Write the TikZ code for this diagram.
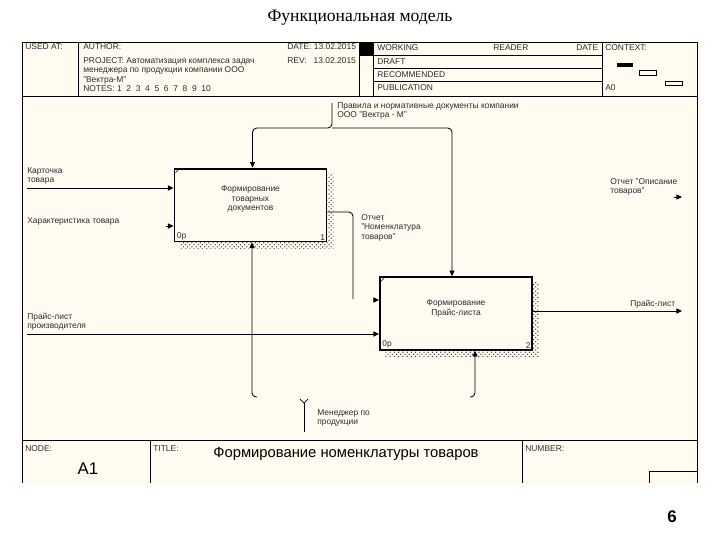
\documentclass[tikz,border=0pt]{standalone}
\usepackage{fontspec}
\setmainfont{Liberation Serif}
\setsansfont{Liberation Sans}
\usetikzlibrary{arrows.meta,positioning,calc,patterns}
\definecolor{idefCream}{RGB}{255,251,240}
\definecolor{idefInk}{RGB}{45,45,45}

\begin{document}
\begin{tikzpicture}[
  x=0.025cm, y=-0.025cm,
  txt/.style={font=\sffamily\fontsize{6}{6.8}\selectfont, text=idefInk,
              inner sep=0pt, align=left},
  hdr/.style={txt, anchor=west},
  act/.style={draw, line width=1.3pt, fill=idefCream,
              minimum width=3.8cm, minimum height=1.82cm},
  shade/.style={pattern=crosshatch dots, pattern color=black!75},
  arr/.style={-{Triangle[length=4pt,width=3.6pt]}, line width=0.6pt,
              rounded corners=3pt},
  rule/.style={line width=0.6pt}
]
  \useasboundingbox (0,0) rectangle (720,540);
  \fill[idefCream] (20,40) rectangle (700,483);

  % page title and number
  \node[font=\fontsize{12.5}{14}\selectfont] (ttl) at (360,18) {Функциональная модель};
  \node[font=\sffamily\bfseries\fontsize{12}{14}\selectfont] (pg) at (672,517) {6};

  % frame: header
  \draw[rule] (22,483) -- (22,42) -- (697,42) -- (697,483);
  \draw[rule] (22,96) -- (697,96);
  \draw[rule] (78,42) -- (78,96);
  \draw[rule] (359,42) -- (359,96);
  \draw[rule] (373,42) -- (373,96);
  \draw[rule] (602,42) -- (602,96);
  \fill[black] (359,42) rectangle (373,55);
  \draw[rule] (359,55) -- (602,55);
  \draw[rule] (373,68) -- (602,68);
  \draw[rule] (373,81) -- (602,81);

  \node[hdr] (usedat) at (25,47) {USED AT:};
  \node[hdr] (author) at (83,47) {AUTHOR:};
  \node[hdr] (date) at (287,47) {DATE:\ 13.02.2015};
  \node[hdr] (rev) at (287,61) {REV:\ \ \ 13.02.2015};
  \node[hdr, anchor=north west] (proj) at (83,57)
    {PROJECT: Автоматизация комплекса задач\\менеджера по продукции компании ООО\\"Вектра-М"\\NOTES:\ 1\ \ 2\ \ 3\ \ 4\ \ 5\ \ 6\ \ 7\ \ 8\ \ 9\ \ 10};
  \node[hdr] (working) at (377,48) {WORKING};
  \node[hdr] (draft) at (377,62) {DRAFT};
  \node[hdr] (recom) at (377,75) {RECOMMENDED};
  \node[hdr] (publ) at (377,88) {PUBLICATION};
  \node[hdr] (reader) at (493,48) {READER};
  \node[hdr] (rdate) at (576,48) {DATE};
  \node[hdr] (context) at (605,48) {CONTEXT:};
  \node[hdr] (ctxnode) at (605,88) {A0};

  % context sketch
  \fill[black] (617,63) rectangle (633,67);
  \draw[rule] (639,70) rectangle (656,75);
  \draw[rule] (665,81) rectangle (682,85);

  % frame: footer
  \draw[rule] (22,440) -- (697,440);
  \draw[rule] (150,440) -- (150,483);
  \draw[rule] (522,440) -- (522,483);
  \draw[rule] (649,483) -- (649,471) -- (697,471);
  \node[hdr] (nodelbl) at (25,449) {NODE:};
  \node[font=\sffamily\fontsize{12}{14}\selectfont] (nodeid) at (88,469) {A1};
  \node[hdr] (titlelbl) at (153,449) {TITLE:};
  \node[font=\sffamily\fontsize{10.5}{12}\selectfont] (title) at (346,454)
    {Формирование номенклатуры товаров};
  \node[hdr] (numlbl) at (525,449) {NUMBER:};

  % activities
  \node[act] (b1) at (250.5,205) {};
  \node[act] (b2) at (456,313.5) {};
  \fill[shade] ($(b1.north east)+(0,6)$) rectangle ($(b1.south east)+(6,6)$);
  \fill[shade] ($(b1.south west)+(6,0)$) rectangle ($(b1.south east)+(0,6)$);
  \fill[shade] ($(b2.north east)+(0,6)$) rectangle ($(b2.south east)+(6,6)$);
  \fill[shade] ($(b2.south west)+(6,0)$) rectangle ($(b2.south east)+(0,6)$);
  \draw ($(b1.north west)+(2,5)$) -- ($(b1.north west)+(5,2)$);
  \draw ($(b2.north west)+(2,5)$) -- ($(b2.north west)+(5,2)$);

  \node[txt, align=center] (b1t) at ($(b1.center)+(0,-6)$) {Формирование\\товарных\\документов};
  \node[txt, align=center] (b2t) at ($(b2.center)+(0,-5)$) {Формирование\\Прайс-листа};
  \node[txt, anchor=south west] (b1c) at ($(b1.south west)+(3,-2)$) {0р};
  \node[txt, anchor=south east] (b1n) at ($(b1.south east)+(-2,-2)$) {1};
  \node[txt, anchor=south west] (b2c) at ($(b2.south west)+(3,-2)$) {0р};
  \node[txt, anchor=south east] (b2n) at ($(b2.south east)+(-2,-2)$) {2};

  % controls
  \coordinate (ctl) at (332,103);
  \coordinate (ctlj) at (332,128);
  \draw[arr] (ctl) -- (ctlj) -| ($(b1.north)+(2,0)$);
  \draw[arr] (ctlj) -| ($(b2.north)+(-4,0)$);
  \node[txt, anchor=north west] (ctllbl) at (337,102)
    {Правила и нормативные документы компании\\ООО "Вектра - М"};

  % inputs
  \coordinate (in1) at (27,188);
  \draw[arr] (in1) -- (in1 -| b1.west);
  \node[txt, anchor=south west] (in1lbl) at (27,185) {Карточка\\товара};
  \coordinate (in2) at (166,226);
  \draw[arr] (in2) -- (in2 -| b1.west);
  \node[txt, anchor=west] (in2lbl) at (27,221) {Характеристика товара};
  \coordinate (in3) at (27,334);
  \draw[arr] (in3) -- (in3 -| b2.west);
  \node[txt, anchor=south west] (in3lbl) at (27,331) {Прайс-лист\\производителя};

  % outputs
  \draw[arr, -] ($(b1.east)+(0,7)$) -| (353,299);
  \coordinate (in4) at (373,300);
  \draw[arr] (in4) -- (in4 -| b2.west);
  \node[txt, anchor=north west] (out1lbl) at (361,214)
    {Отчет\\"Номенклатура\\товаров"};
  \coordinate (out2) at (682,311);
  \draw[arr] ($(b2.east)+(0,-2.5)$) -- (out2);
  \node[txt, anchor=south west] (out2lbl) at (630,309) {Прайс-лист};
  \coordinate (out3) at (674,197);
  \draw[arr] (out3) -- (682,197);
  \node[txt, anchor=north west] (out3lbl) at (610,178) {Отчет "Описание\\товаров"};

  % mechanisms
  \coordinate (mech1) at (257,397);
  \draw[arr] (mech1) -| ($(b1.south)+(1.5,0)$);
  \coordinate (mech2) at (470,397);
  \draw[arr] (mech2) -| ($(b2.south)+(19,0)$);
  \coordinate (mech) at (304,432);
  \coordinate (mechtop) at (304,403);
  \draw[line width=0.6pt] (mech) -- (mechtop);
  \draw[line width=0.5pt] (300,399) -- (mechtop) -- (308,399);
  \node[txt, anchor=north west] (mechlbl) at (317,409) {Менеджер по\\продукции};
\end{tikzpicture}
\end{document}
